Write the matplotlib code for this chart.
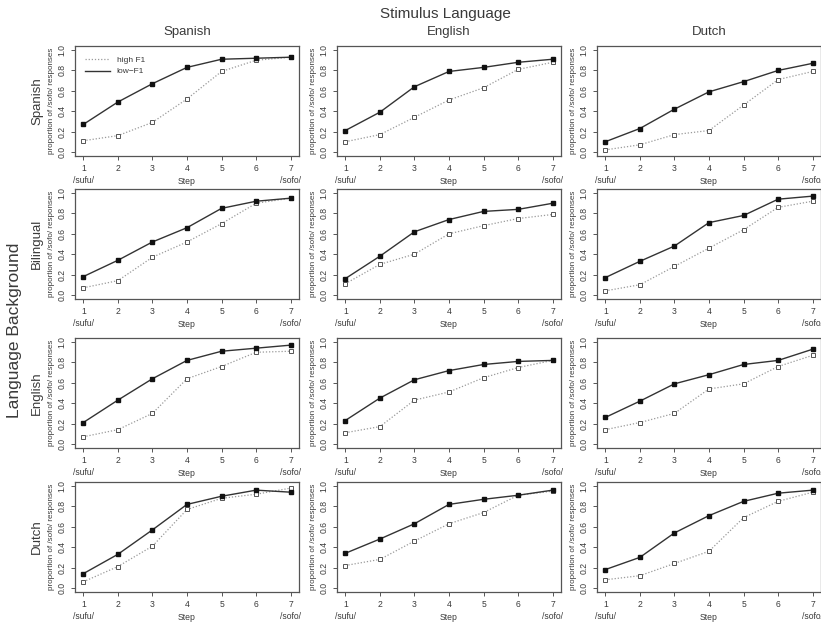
import matplotlib.pyplot as plt

plt.rcParams['font.family'] = ['Liberation Sans', 'DejaVu Sans']

steps = [1, 2, 3, 4, 5, 6, 7]
step_labels = ['1\n/sufu/', '2', '3', '4', '5', '6', '7\n/sofo/']
backgrounds = ['Spanish', 'Bilingual', 'English', 'Dutch']
stimuli = ['Spanish', 'English', 'Dutch']

# low-F1 (solid, filled squares), rows = background, cols = stimulus
low_spanish_spanish = [0.27, 0.49, 0.67, 0.83, 0.91, 0.92, 0.93]
low_spanish_english = [0.21, 0.39, 0.64, 0.79, 0.83, 0.88, 0.91]
low_spanish_dutch = [0.10, 0.23, 0.42, 0.59, 0.69, 0.80, 0.87]
low_bilingual_spanish = [0.18, 0.34, 0.52, 0.66, 0.85, 0.92, 0.95]
low_bilingual_english = [0.16, 0.38, 0.62, 0.74, 0.82, 0.84, 0.90]
low_bilingual_dutch = [0.17, 0.33, 0.48, 0.71, 0.78, 0.94, 0.97]
low_english_spanish = [0.21, 0.43, 0.64, 0.82, 0.91, 0.94, 0.97]
low_english_english = [0.23, 0.45, 0.63, 0.72, 0.78, 0.81, 0.82]
low_english_dutch = [0.26, 0.42, 0.59, 0.68, 0.78, 0.82, 0.93]
low_dutch_spanish = [0.14, 0.33, 0.57, 0.82, 0.90, 0.96, 0.94]
low_dutch_english = [0.34, 0.48, 0.63, 0.82, 0.87, 0.91, 0.96]
low_dutch_dutch = [0.18, 0.30, 0.54, 0.71, 0.85, 0.93, 0.96]

# high F1 (dotted, open squares)
high_spanish_spanish = [0.11, 0.16, 0.29, 0.52, 0.79, 0.90, 0.93]
high_spanish_english = [0.10, 0.17, 0.34, 0.51, 0.63, 0.81, 0.88]
high_spanish_dutch = [0.02, 0.07, 0.17, 0.21, 0.46, 0.71, 0.79]
high_bilingual_spanish = [0.07, 0.14, 0.37, 0.52, 0.70, 0.90, 0.95]
high_bilingual_english = [0.11, 0.30, 0.40, 0.60, 0.68, 0.75, 0.79]
high_bilingual_dutch = [0.04, 0.10, 0.28, 0.46, 0.64, 0.86, 0.92]
high_english_spanish = [0.07, 0.14, 0.30, 0.64, 0.76, 0.90, 0.91]
high_english_english = [0.11, 0.17, 0.43, 0.51, 0.65, 0.75, 0.82]
high_english_dutch = [0.14, 0.21, 0.30, 0.54, 0.59, 0.76, 0.87]
high_dutch_spanish = [0.06, 0.21, 0.41, 0.77, 0.88, 0.92, 0.98]
high_dutch_english = [0.22, 0.28, 0.46, 0.63, 0.74, 0.91, 0.95]
high_dutch_dutch = [0.08, 0.12, 0.24, 0.36, 0.69, 0.85, 0.94]

low = [
    [low_spanish_spanish, low_spanish_english, low_spanish_dutch],
    [low_bilingual_spanish, low_bilingual_english, low_bilingual_dutch],
    [low_english_spanish, low_english_english, low_english_dutch],
    [low_dutch_spanish, low_dutch_english, low_dutch_dutch],
]
high = [
    [high_spanish_spanish, high_spanish_english, high_spanish_dutch],
    [high_bilingual_spanish, high_bilingual_english, high_bilingual_dutch],
    [high_english_spanish, high_english_english, high_english_dutch],
    [high_dutch_spanish, high_dutch_english, high_dutch_dutch],
]

W, H = 821, 624
TXT = '#3a3a3a'
col_left = [75, 337, 597]
row_top = [46, 189, 338, 482]
box_w, box_h = 224, 110

fig = plt.figure(figsize=(W / 100, H / 100), dpi=100)
fig.patch.set_facecolor('white')

for r in range(4):
    for c in range(3):
        x0 = col_left[c] / W
        y0 = 1 - (row_top[r] + box_h) / H
        ax = fig.add_axes([x0, y0, box_w / W, box_h / H])
        ax.plot(steps, high[r][c], linestyle=(0, (1, 1.5)), color='#9a9a9a', linewidth=0.9,
                marker='s', markersize=3.3, markerfacecolor='white',
                markeredgecolor='#555555', markeredgewidth=0.7, label='high F1')
        ax.plot(steps, low[r][c], linestyle='-', color='#333333', linewidth=1.0,
                marker='s', markersize=3.3, markerfacecolor='#111111',
                markeredgecolor='#111111', label='low\u2212F1')
        ax.set_xlim(0.76, 7.24)
        ax.set_ylim(-0.04, 1.04)
        ax.set_xticks(steps)
        ax.set_xticklabels(step_labels, fontsize=6.2, color=TXT, linespacing=1.4)
        ax.set_yticks([0.0, 0.2, 0.4, 0.6, 0.8, 1.0])
        ax.set_yticklabels(['0.0', '0.2', '0.4', '0.6', '0.8', '1.0'], fontsize=6.2,
                           color=TXT, rotation=90, va='center')
        ax.tick_params(direction='out', length=3, width=0.7, colors='#555555', pad=3)
        ax.tick_params(axis='x', labelcolor=TXT)
        ax.tick_params(axis='y', labelcolor=TXT)
        for sp in ax.spines.values():
            sp.set_color('#555555')
            sp.set_linewidth(0.9)
        ax.set_ylabel('proportion of /sofo/ responses', fontsize=5.8, color=TXT, labelpad=2)
        ax.text(0.5, -0.232, 'Step', transform=ax.transAxes, ha='center', va='center',
                fontsize=6.2, color=TXT)
        if r == 0:
            ax.set_title(stimuli[c], fontsize=9.5, color=TXT, pad=8)
        if c == 0:
            ax.text(-0.168, 0.5, backgrounds[r], transform=ax.transAxes, rotation=90,
                    ha='center', va='center', fontsize=9.5, color=TXT)
        if r == 0 and c == 0:
            ax.legend(loc='upper left', frameon=False, fontsize=6, markerscale=0,
                      handlelength=3.0, borderaxespad=0.8, labelspacing=0.45,
                      labelcolor=TXT)

fig.text(445 / W, 1 - 14 / H, 'Stimulus Language', ha='center', va='center',
         fontsize=11, color=TXT)
fig.text(15 / W, 1 - 330 / H, 'Language Background', ha='center', va='center',
         rotation=90, fontsize=12.5, color=TXT)

fig.savefig('out.png', dpi=100)
plt.close(fig)
